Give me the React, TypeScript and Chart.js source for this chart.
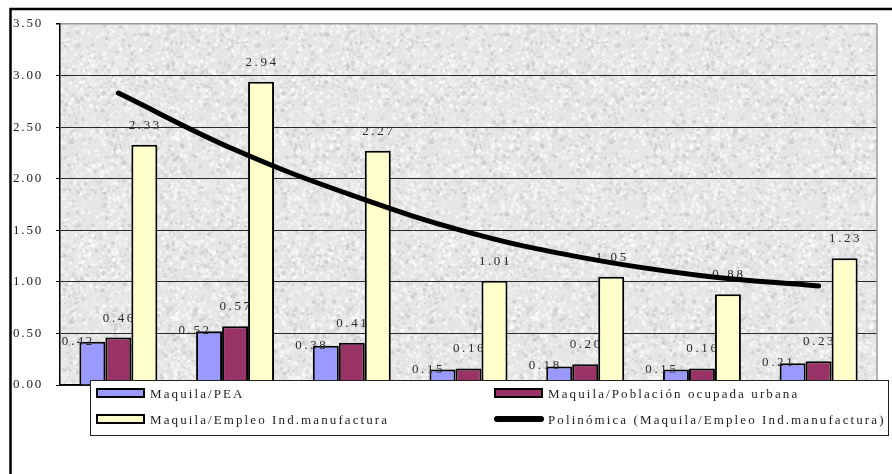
import { useEffect, useRef } from "react";
import { Chart, registerables } from "chart.js";

Chart.register(...registerables);

// Ratios per period (seven groups)
const categories = ["1", "2", "3", "4", "5", "6", "7"];
const maquilaPea = [0.42, 0.52, 0.38, 0.15, 0.18, 0.15, 0.21];
const maquilaUrbana = [0.46, 0.57, 0.41, 0.16, 0.2, 0.16, 0.23];
const maquilaManufactura = [2.33, 2.94, 2.27, 1.01, 1.05, 0.88, 1.23];
// Polynomial trend of Maquila/Empleo Ind.manufactura
const tendencia = [2.83, 2.28, 1.84, 1.48, 1.23, 1.06, 0.96];

const yTicks = [0, 0.5, 1, 1.5, 2, 2.5, 3, 3.5];

const seriesNames = [
  "Maquila/PEA",
  "Maquila/Población ocupada urbana",
  "Maquila/Empleo Ind.manufactura",
  "Polinómica (Maquila/Empleo Ind.manufactura)",
];

const FONT = '13px "Liberation Serif", "DejaVu Serif", serif';
const TICK_SPACING = "1.8px";
const LEGEND_SPACING = "2.1px";
const VALUE_SPACING = "2.6px";

function makeGranite(ctx: CanvasRenderingContext2D): CanvasPattern | string {
  const size = 180;
  const c = document.createElement("canvas");
  c.width = size;
  c.height = size;
  const g = c.getContext("2d");
  if (!g) return "#e6e6e6";
  g.fillStyle = "#e6e6e6";
  g.fillRect(0, 0, size, size);
  let s = 20240611;
  const rnd = () => {
    s = (Math.imul(s, 1103515245) + 12345) >>> 0;
    return s / 4294967296;
  };
  for (let i = 0; i < 3200; i++) {
    const x = rnd() * size;
    const y = rnd() * size;
    const r = 0.5 + rnd() * 1.7;
    const light = rnd() < 0.55;
    const v = light ? 238 + Math.floor(rnd() * 17) : 198 + Math.floor(rnd() * 30);
    g.fillStyle = `rgba(${v},${v},${v},0.75)`;
    g.beginPath();
    g.arc(x, y, r, 0, Math.PI * 2);
    g.fill();
  }
  return ctx.createPattern(c, "repeat") || "#e6e6e6";
}

const framePlugin = {
  id: "frameAndBackground",
  beforeDraw(chart: any) {
    const { ctx, chartArea } = chart;
    ctx.letterSpacing = TICK_SPACING;
    ctx.save();
    // outer frame (top and left edges)
    ctx.strokeStyle = "#000";
    ctx.lineWidth = 2.5;
    ctx.beginPath();
    ctx.moveTo(10.5, chart.height + 2);
    ctx.lineTo(10.5, 9);
    ctx.lineTo(chart.width + 2, 9);
    ctx.stroke();
    // plot area texture
    if (!chart.$granite) chart.$granite = makeGranite(ctx);
    ctx.fillStyle = chart.$granite;
    ctx.fillRect(
      chartArea.left,
      chartArea.top,
      chartArea.right - chartArea.left,
      chartArea.bottom - chartArea.top
    );
    ctx.restore();
  },
  beforeDatasetsDraw(chart: any) {
    const { ctx, chartArea } = chart;
    ctx.save();
    ctx.strokeStyle = "#9a9a9a";
    ctx.lineWidth = 1.5;
    ctx.beginPath();
    ctx.moveTo(chartArea.right, chartArea.top);
    ctx.lineTo(chartArea.right, chartArea.bottom);
    ctx.stroke();
    ctx.restore();
  },
};

const labelOffsets = [
  { dx: -15, dy: 3 },
  { dx: 0, dy: -16 },
  { dx: 0, dy: -16 },
];

const valueLabelPlugin = {
  id: "valueLabels",
  afterDatasetDraw(chart: any, args: any) {
    const ds = chart.data.datasets[args.index];
    if (ds.type !== "bar") return;
    const off = labelOffsets[args.index] || { dx: 0, dy: -16 };
    const { ctx } = chart;
    ctx.save();
    ctx.letterSpacing = VALUE_SPACING;
    ctx.font = FONT;
    ctx.fillStyle = "#2a2a2a";
    ctx.textAlign = "center";
    ctx.textBaseline = "alphabetic";
    args.meta.data.forEach((el: any, i: number) => {
      const v = ds.data[i] as number;
      ctx.fillText(v.toFixed(2), el.x + off.dx + 1, el.y + off.dy);
    });
    ctx.restore();
  },
};

const legendPlugin = {
  id: "boxLegend",
  afterDraw(chart: any) {
    const { ctx } = chart;
    const box = { x: 90.5, y: 380.5, w: 798, h: 55 };
    ctx.save();
    ctx.fillStyle = "#ffffff";
    ctx.fillRect(box.x, box.y, box.w, box.h);
    ctx.strokeStyle = "#222";
    ctx.lineWidth = 1;
    ctx.strokeRect(box.x, box.y, box.w, box.h);
    ctx.letterSpacing = LEGEND_SPACING;
    ctx.font = FONT;
    ctx.textAlign = "left";
    ctx.textBaseline = "alphabetic";
    const cols = [97, 495];
    const rows = [393, 419];
    chart.data.datasets.forEach((ds: any, i: number) => {
      const cx = cols[i % 2];
      const cy = rows[Math.floor(i / 2)];
      if (ds.type === "bar") {
        ctx.fillStyle = ds.backgroundColor;
        ctx.fillRect(cx, cy - 4, 47, 8);
        ctx.strokeStyle = "#000";
        ctx.lineWidth = 2;
        ctx.strokeRect(cx, cy - 4, 47, 8);
      } else {
        ctx.strokeStyle = ds.borderColor;
        ctx.lineWidth = 6;
        ctx.lineCap = "round";
        ctx.beginPath();
        ctx.moveTo(cx + 2, cy);
        ctx.lineTo(cx + 46, cy);
        ctx.stroke();
      }
      ctx.fillStyle = "#1e1e1e";
      ctx.fillText(ds.label, cx + 53, cy + 4.5);
    });
    ctx.restore();
  },
};

export default function App() {
  const canvasRef = useRef<HTMLCanvasElement | null>(null);

  useEffect(() => {
    if (!canvasRef.current) return;
    const chart = new Chart(canvasRef.current, {
      type: "bar",
      data: {
        labels: categories,
        datasets: [
          {
            type: "bar",
            label: seriesNames[0],
            data: maquilaPea,
            backgroundColor: "#9999ff",
            borderColor: "#000",
            borderWidth: 2,
            order: 1,
          },
          {
            type: "bar",
            label: seriesNames[1],
            data: maquilaUrbana,
            backgroundColor: "#993366",
            borderColor: "#000",
            borderWidth: 2,
            order: 1,
          },
          {
            type: "bar",
            label: seriesNames[2],
            data: maquilaManufactura,
            backgroundColor: "#ffffcc",
            borderColor: "#000",
            borderWidth: 2,
            order: 1,
          },
          {
            type: "line",
            label: seriesNames[3],
            data: tendencia,
            borderColor: "#000",
            borderWidth: 5,
            borderCapStyle: "round",
            borderJoinStyle: "round",
            pointRadius: 0,
            tension: 0.4,
            fill: false,
            order: 0,
          } as any,
        ],
      },
      options: {
        animation: false,
        responsive: true,
        maintainAspectRatio: false,
        layout: { padding: { top: 24, right: 15, bottom: 89, left: 0 } },
        datasets: {
          bar: { categoryPercentage: 0.668, barPercentage: 1 },
        },
        plugins: {
          legend: { display: false },
          tooltip: { enabled: false },
        },
        scales: {
          x: {
            grid: { display: false, drawTicks: false },
            ticks: { display: false },
            border: { display: true, color: "#000", width: 1.5 },
            afterFit: (s: any) => {
              s.height = 0;
            },
          },
          y: {
            min: 0,
            max: 3.5,
            afterBuildTicks: (s: any) => {
              s.ticks = yTicks.map((v) => ({ value: v }));
            },
            ticks: {
              font: { family: '"Liberation Serif", "DejaVu Serif", serif', size: 13 },
              color: "#222",
              padding: 13,
              callback: (v: any) => Number(v).toFixed(2),
            },
            grid: {
              color: (c: any) => (c.tick && c.tick.value === 3.5 ? "#9a9a9a" : "#2a2a2a"),
              lineWidth: (c: any) => (c.tick && c.tick.value === 3.5 ? 1.5 : 1),
              tickColor: "#000",
              tickLength: 4,
              drawTicks: true,
            },
            border: { display: true, color: "#000", width: 1.5 },
            afterFit: (s: any) => {
              s.width = 60;
            },
          },
        },
      },
      plugins: [framePlugin, valueLabelPlugin, legendPlugin],
    });
    return () => chart.destroy();
  }, []);

  return (
    <div style={{ position: "absolute", left: 0, top: 0, width: 892, height: 474, background: "#fff" }}>
      <canvas ref={canvasRef} />
    </div>
  );
}
